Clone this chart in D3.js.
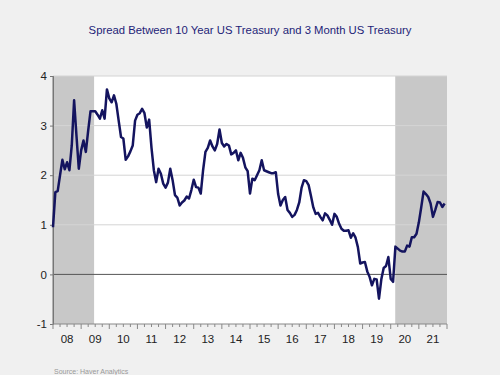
<!DOCTYPE html>
<html><head><meta charset="utf-8">
<script src="https://cdn.jsdelivr.net/npm/d3@7"></script>
<style>
html,body{margin:0;padding:0;background:#f0f0f0;}
svg{display:block;font-family:"Liberation Sans",Arial,sans-serif;}
</style></head>
<body>
<script>
const title = "Spread Between 10 Year US Treasury and 3 Month US Treasury";
const source = "Source:  Haver Analytics";
const startYear = 2008;
// monthly spread, Jan 2008 .. Dec 2021
const spread = [
 0.95,1.66,1.68,2.00,2.31,2.12,2.26,2.10,2.60,3.51,2.80,2.13,
 2.50,2.70,2.47,2.90,3.29,3.29,3.29,3.22,3.14,3.31,3.14,3.73,
 3.55,3.47,3.61,3.44,3.10,2.77,2.74,2.31,2.38,2.48,2.60,3.10,
 3.22,3.25,3.34,3.25,2.96,3.12,2.55,2.10,1.86,2.13,2.03,1.83,
 1.75,1.85,2.13,1.90,1.60,1.55,1.39,1.45,1.49,1.57,1.53,1.70,
 1.91,1.76,1.75,1.63,2.10,2.47,2.55,2.70,2.58,2.50,2.63,2.92,
 2.65,2.58,2.63,2.60,2.42,2.45,2.50,2.30,2.45,2.35,2.16,2.08,
 1.63,1.93,1.90,2.00,2.10,2.30,2.10,2.08,2.06,2.04,2.04,2.06,
 1.62,1.39,1.50,1.56,1.30,1.24,1.16,1.20,1.30,1.45,1.75,1.90,
 1.88,1.80,1.58,1.35,1.22,1.24,1.16,1.09,1.23,1.19,1.10,1.00,
 1.22,1.16,1.02,0.92,0.88,0.88,0.89,0.74,0.83,0.74,0.55,0.22,
 0.24,0.25,0.06,-0.05,-0.22,-0.09,-0.10,-0.49,-0.10,0.13,0.17,0.35,
 -0.09,-0.15,0.56,0.52,0.48,0.46,0.46,0.58,0.56,0.75,0.75,0.82,
 1.05,1.35,1.67,1.62,1.56,1.43,1.16,1.30,1.46,1.45,1.36,1.43
];
const yTicks = [-1,0,1,2,3,4];
const gridValues = [1,2,3,4];
const yearLabels = ["08","09","10","11","12","13","14","15","16","17","18","19","20","21"];
const recessions = [[2008.0, 2009.46], [2020.16, 2022.0]];

const W = 500, H = 375;
const m = {left:53, right:53, top:76, bottom:51};
const svg = d3.select("body").append("svg").attr("width",W).attr("height",H);
svg.append("rect").attr("width",W).attr("height",H).attr("fill","#f0f0f0");

const x = d3.scaleLinear().domain([2008, 2022]).range([m.left, W - m.right]);
const y = d3.scaleLinear().domain([-1, 4]).range([H - m.bottom, m.top]);

svg.append("rect").attr("x",x(2008)).attr("y",y(4)).attr("width",x(2022)-x(2008)).attr("height",y(-1)-y(4)).attr("fill","#ffffff");

svg.selectAll("rect.rec").data(recessions).enter().append("rect").attr("class","rec")
  .attr("x",d=>x(d[0])).attr("width",d=>x(d[1])-x(d[0]))
  .attr("y",y(4)).attr("height",y(-1)-y(4)).attr("fill","#c8c8c8");

svg.selectAll("line.grid").data(gridValues).enter().append("line").attr("class","grid")
  .attr("x1",x(2008)).attr("x2",x(2022)).attr("y1",d=>y(d)).attr("y2",d=>y(d))
  .attr("stroke","#d4d4d4").attr("stroke-width",1);

svg.append("line").attr("x1",x(2008)).attr("x2",x(2022)).attr("y1",y(0)).attr("y2",y(0))
  .attr("stroke","#555").attr("stroke-width",1);

// y axis
const yAxis = d3.axisLeft(y).tickValues(yTicks).tickSize(3).tickPadding(3).tickFormat(d => String(d));
const gy = svg.append("g").attr("transform",`translate(${x(2008)},0)`).call(yAxis);
gy.select(".domain").attr("stroke","#777");
gy.selectAll(".tick line").attr("stroke","#777");
gy.selectAll("text").attr("font-size",11.5).attr("fill","#222").attr("font-family","Liberation Sans, Arial, sans-serif");

// x axis: major ticks at years, minor at quarters
const quarters = d3.range(2008, 2022.001, 0.25);
const gx = svg.append("g").attr("transform",`translate(0,${y(-1)})`);
gx.append("line").attr("x1",x(2008)).attr("x2",x(2022)).attr("stroke","#888");
gx.selectAll("line.q").data(quarters).enter().append("line").attr("class","q")
  .attr("x1",d=>x(d)).attr("x2",d=>x(d)).attr("y1",0)
  .attr("y2",d=>Math.abs(d-Math.round(d))<1e-6?5:3).attr("stroke","#888");
gx.selectAll("text").data(yearLabels).enter().append("text")
  .attr("x",(d,i)=>x(startYear+i+0.5)).attr("y",19).attr("text-anchor","middle")
  .attr("font-size",11.5).attr("fill","#222").text(d=>d);

svg.append("line").attr("x1",x(2008)).attr("x2",x(2008)).attr("y1",y(4)).attr("y2",y(-1)).attr("stroke","#777");

const line = d3.line().x((d,i)=>x(startYear + i/12)).y(d=>y(d));
svg.append("path").datum(spread).attr("d",line).attr("fill","none")
  .attr("stroke","#14145f").attr("stroke-width",2.5).attr("stroke-linejoin","round");

svg.append("text").attr("x",250).attr("y",34).attr("text-anchor","middle")
  .attr("font-size",11.3).attr("fill","#1e1e78").text(title);
svg.append("text").attr("x",54).attr("y",374).attr("font-size",7).attr("fill","#999").text(source);
</script>
</body></html>
